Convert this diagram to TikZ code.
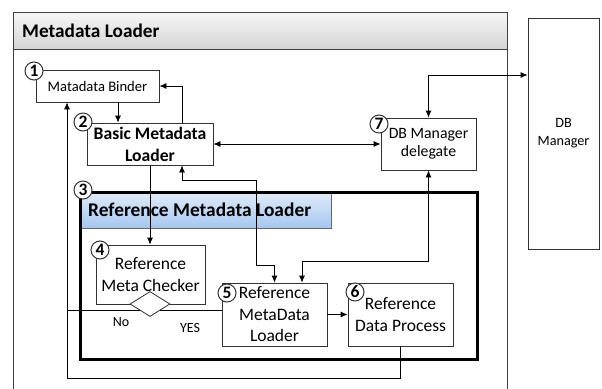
\documentclass[tikz,border=0pt]{standalone}
\usepackage{fontspec}
\setmainfont{Carlito}
\usetikzlibrary{arrows.meta,shapes.geometric,calc}
\newcommand{\fs}[2]{\fontsize{#1}{#2}\selectfont}
\definecolor{bandtop}{RGB}{226,236,249}
\definecolor{bandbot}{RGB}{164,198,240}
\definecolor{greytop}{RGB}{246,246,246}
\definecolor{greybot}{RGB}{212,212,212}
\begin{document}
\begin{tikzpicture}[x=1pt,y=-1pt,
  box/.style={draw=black!80, line width=0.8pt, fill=white, align=center, inner sep=0pt},
  num/.style={circle, draw=black!80, line width=1pt, fill=white, inner sep=0pt, minimum size=18pt, font=\fs{17.5}{17}\bfseries},
  conn/.style={line width=0.8pt, -{Latex[length=7pt,width=6pt]}},
  dconn/.style={line width=0.8pt, {Latex[length=7pt,width=6pt]}-{Latex[length=7pt,width=6pt]}},
  plain/.style={line width=0.8pt},
]
\useasboundingbox (0,0) rectangle (602,388);
% outer container
\node[draw=black!75, line width=1pt, fill=white, minimum width=494pt, minimum height=380pt, anchor=north west, inner sep=0pt] (outer) at (13,12) {};
\node[draw=black!75, line width=1pt, top color=greytop, bottom color=greybot, minimum width=494pt, minimum height=37pt, anchor=north west, inner sep=0pt] (titleband) at (13,12) {};
\node[anchor=west, inner sep=0pt, font=\fs{19.3}{20}\bfseries] (title) at (22,31) {Metadata Loader};
% DB manager
\node[box, minimum width=71pt, minimum height=231pt, font=\fs{14.2}{18}] (db) at (563.5,133.5) {DB\\Manager};
% nodes
\node[box, minimum width=123pt, minimum height=32pt, font=\fs{14.6}{17}] (n1) at (97.5,86) {Matadata Binder};
\node[box, minimum width=126pt, minimum height=42pt, font=\fs{17.6}{22}\bfseries] (n2) at (150,144) {Basic Metadata\\Loader};
\node[box, minimum width=95pt, minimum height=52pt, font=\fs{15.8}{18}] (n7) at (428.5,144) {DB Manager\\delegate};
% reference metadata loader container
\node[draw=black!60, line width=0.6pt, top color=bandtop, bottom color=bandbot, minimum width=252pt, minimum height=37pt, anchor=north west, inner sep=0pt] (rmlband) at (79,191) {};
\node[anchor=west, inner sep=0pt, font=\fs{19.4}{20}\bfseries] (rmltitle) at (88,210) {Reference Metadata Loader};
\node[draw=black, line width=2.5pt, minimum width=397pt, minimum height=167pt, anchor=north west, inner sep=0pt] (rml) at (79,191) {};
\node[box, minimum width=109pt, minimum height=59pt, font=\fs{17.5}{22}] (n4) at (150.5,274.5) {Reference\\Meta Checker};
\node[diamond, draw=black!80, line width=0.8pt, fill=white, minimum width=40pt, minimum height=25pt, inner sep=0pt] (dia) at (150,304) {};
\node[box, minimum width=105pt, minimum height=63pt, font=\fs{17.5}{21.5}] (n5) at (274.5,314.5) {Reference\\MetaData\\Loader};
\node[box, minimum width=105pt, minimum height=63pt, font=\fs{17.5}{22}] (n6) at (400.5,314.5) {Reference\\Data Process};
% labels
\node[font=\fs{14}{14}] (nolbl) at (121,322) {No};
\node[font=\fs{14}{14}] (yeslbl) at (190,328) {YES};
% junction coordinates
\coordinate (j1) at (256,180);
\coordinate (j2) at (256,265);
\coordinate (j3) at (302,261);
\coordinate (j4) at (67,378);
% connectors
\draw[conn] ([xshift=20.5pt]n1.south) -- ([xshift=20.5pt]n1.south |- n2.north);
\draw[conn] ([xshift=32pt]n2.north) |- (n1.east);
\draw[dconn] (n2.east) -- (n7.west);
\draw[dconn] (n7.north) |- ([yshift=58.5pt]db.west);
\draw[conn] (n2.south) -- (n2.south |- n4.north);
\draw[dconn] ([xshift=32pt]n2.south) |- (j1) -- (j2) -| (n5.north);
\draw[dconn] (n7.south) |- (j3) -- (j3 |- n5.north);
\draw[conn] (n5.east) -- (n6.west);
\draw[conn] (n6.south) |- (j4) -- (j4 |- n1.south);
\draw[plain] (dia.south west) -- (dia.south west -| j4);
\draw[plain] (dia.south east) -- (dia.south east -| n5.west);
% numbers
\node[num] (c1) at (34,71) {1};
\node[num] (c2) at (83,122) {2};
\node[num] (c3) at (83,190) {3};
\node[num] (c4) at (100,250) {4};
\node[num] (c5) at (227,293) {5};
\node[num] (c6) at (355,292) {6};
\node[num] (c7) at (379,124) {7};
\end{tikzpicture}
\end{document}
